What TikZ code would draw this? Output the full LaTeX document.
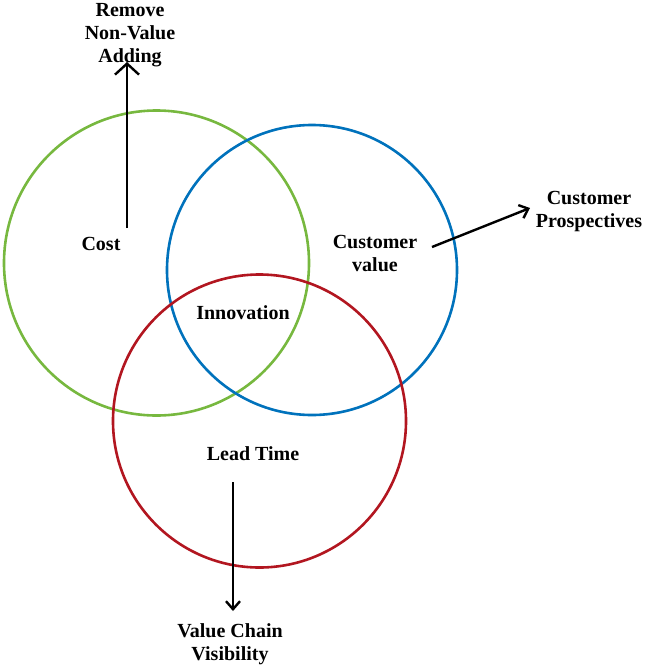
\documentclass[tikz,border=0pt]{standalone}
\usepackage{fontspec}
\setmainfont{Liberation Serif}
\usepackage{tikz}
\usetikzlibrary{positioning,arrows.meta}
\definecolor{costgreen}{RGB}{119,184,63}
\definecolor{valueblue}{RGB}{0,114,188}
\definecolor{leadred}{RGB}{178,22,32}
\tikzset{
  % --- the three overlapping rings -------------------------------------------
  ring/.style={circle,draw=#1,line width=2.6pt,inner sep=0pt},
  % --- labels ----------------------------------------------------------------
  lab/.style={align=center,inner sep=1pt,
              font=\bfseries\fontsize{20}{23}\selectfont},
  % --- pointers out of the rings ---------------------------------------------
  ptr/.style={-{Straight Barb[length=8pt,width=14pt]},line width=2.4pt},
}

\begin{document}
\begin{tikzpicture}[x=1pt,y=-1pt]
  \useasboundingbox (0,0) rectangle (645,670);

  \node[ring=costgreen,minimum size=305pt]  (costring)  at (156.5,263) {};
  \node[ring=valueblue,minimum size=290pt]  (valuering) at (312,270)   {};
  \node[ring=leadred,minimum size=293pt]    (leadring)  at (259.5,421) {};

  \node[lab] (cost)  at (101,244) {Cost};
  \node[lab] (cval)  at (375,253) {Customer\\value};
  \node[lab] (innov) at (243,313) {Innovation};
  \node[lab] (lead)  at (253,454) {Lead Time};

  % Free ends of the pointers sit off the label boxes.
  \coordinate (costtail) at (127,228);
  \coordinate (costhead) at (127,62);
  \coordinate (cvaltail) at (432,247);
  \coordinate (cvalhead) at (530,208);
  \coordinate (leadtail) at (233,482);
  \coordinate (leadhead) at (233,611);

  \node[lab] (remove) at (130,35)  {Remove\\Non-Value\\Adding};
  \node[lab] (prosp)  at (589,212) {Customer\\Prospectives};
  \node[lab] (chain)  at (230,644) {Value Chain\\Visibility};

  \draw[ptr,-{Straight Barb[length=11pt,width=24pt]}] (costtail) -- (costhead);
  \draw[ptr] (cvaltail) -- (cvalhead);
  \draw[ptr] (leadtail) -- (leadhead);
\end{tikzpicture}
\end{document}
